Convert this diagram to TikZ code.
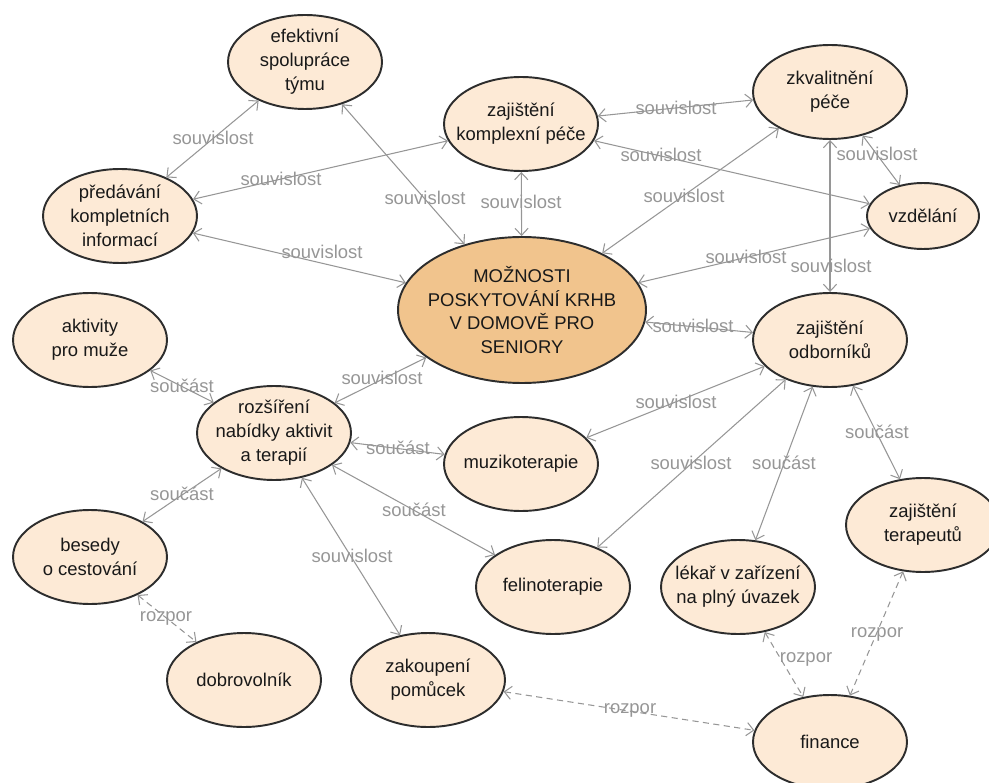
\documentclass[tikz,border=0pt]{standalone}
\usepackage{fontspec}
\setmainfont{Liberation Sans}
\usetikzlibrary{shapes.geometric,arrows.meta}
\definecolor{nodefill}{RGB}{253,234,214}
\definecolor{mainfill}{RGB}{241,196,141}
\definecolor{edgegray}{RGB}{150,150,150}
\definecolor{bordergray}{RGB}{45,45,45}
\definecolor{textdark}{RGB}{25,25,25}
\begin{document}
\begin{tikzpicture}[x=0.02cm,y=-0.02cm,
  concept/.style={ellipse,draw=bordergray,line width=1.1pt,fill=nodefill,
    minimum width=3.08cm,minimum height=1.88cm,inner sep=-8pt,align=center,
    font=\fontsize{10.5}{13.6}\selectfont,text=textdark},
  mainconcept/.style={concept,fill=mainfill,minimum width=4.96cm,minimum height=2.92cm},
  smallconcept/.style={concept,minimum width=2.24cm,minimum height=1.32cm},
  link/.style={draw=edgegray,line width=0.6pt,
    {Straight Barb[length=4pt,width=7.5pt]}-{Straight Barb[length=4pt,width=7.5pt]}},
  conflict/.style={link,dash pattern=on 3.5pt off 2.5pt},
  lab/.style={text=edgegray,font=\fontsize{10.5}{12}\selectfont,inner sep=0pt}]
\useasboundingbox (0,0) rectangle (989,783);
\clip (0,0) rectangle (989,783);

% nodes
\node[concept] (ef) at (305,62) {efektivní\\spolupráce\\týmu};
\node[concept] (kp) at (521,124) {zajištění\\komplexní péče};
\node[concept] (zk) at (830,92) {zkvalitnění\\péče};
\node[concept] (pi) at (120,216) {předávání\\kompletních\\informací};
\node[smallconcept] (vz) at (923,216) {vzdělání};
\node[mainconcept] (main) at (522,310) {MOŽNOSTI\\POSKYTOVÁNÍ KRHB\\V DOMOVĚ PRO\\SENIORY};
\node[concept] (od) at (830,340) {zajištění\\odborníků};
\node[concept] (ak) at (90,340) {aktivity\\pro muže};
\node[concept] (ro) at (274,433) {rozšíření\\nabídky aktivit\\a terapií};
\node[concept] (mu) at (521,464) {muzikoterapie};
\node[concept] (te) at (923,525) {zajištění\\terapeutů};
\node[concept] (be) at (90,557) {besedy\\o cestování};
\node[concept] (fe) at (553,587) {felinoterapie};
\node[concept] (le) at (738,587) {lékař v zařízení\\na plný úvazek};
\node[concept] (do) at (244,680) {dobrovolník};
\node[concept] (za) at (428,680) {zakoupení\\pomůcek};
\node[concept] (fi) at (830,742) {finance};

% connectors
\draw[link] (pi) -- (ef);
\draw[link] (pi) -- (kp);
\draw[link] (pi) -- (main);
\draw[link] (ef) -- (main);
\draw[link] (kp) -- (main);
\draw[link] (kp) -- (zk);
\draw[link] (kp) -- (vz);
\draw[link] (zk) -- (main);
\draw[link] (zk) -- (vz);
\draw[link] (zk) -- (od);
\draw[link] (vz) -- (main);
\draw[link] (main) -- (od);
\draw[link] (od) -- (mu);
\draw[link] (od) -- (fe);
\draw[link] (od) -- (le);
\draw[link] (od) -- (te);
\draw[link] (main) -- (ro);
\draw[link] (ak) -- (ro);
\draw[link] (ro) -- (mu);
\draw[link] (ro) -- (be);
\draw[link] (ro) -- (fe);
\draw[link] (ro) -- (za);
\draw[conflict] (be) -- (do);
\draw[conflict] (za) -- (fi);
\draw[conflict] (le) -- (fi);
\draw[conflict] (te) -- (fi);

% labels
\node[lab] (l1) at (213,138) {souvislost};
\node[lab] (l2) at (281,179) {souvislost};
\node[lab] (l3) at (322,252) {souvislost};
\node[lab] (l4) at (425,198) {souvislost};
\node[lab] (l5) at (521,202) {souvislost};
\node[lab] (l6) at (676,108) {souvislost};
\node[lab] (l7) at (661,155) {souvislost};
\node[lab] (l8) at (684,196) {souvislost};
\node[lab] (l9) at (877,154) {souvislost};
\node[lab] (l10) at (831,266) {souvislost};
\node[lab] (l11) at (746,257) {souvislost};
\node[lab] (l12) at (693,326) {souvislost};
\node[lab] (l13) at (676,402) {souvislost};
\node[lab] (l14) at (691,463) {souvislost};
\node[lab] (l15) at (784,463) {součást};
\node[lab] (l16) at (877,432) {součást};
\node[lab] (l17) at (382,378) {souvislost};
\node[lab] (l18) at (182,386) {součást};
\node[lab] (l19) at (398,448) {součást};
\node[lab] (l20) at (182,494) {součást};
\node[lab] (l21) at (414,510) {součást};
\node[lab] (l22) at (352,556) {souvislost};
\node[lab] (l23) at (166,618) {rozpor};
\node[lab] (l24) at (630,710) {rozpor};
\node[lab] (l25) at (806,659) {rozpor};
\node[lab] (l26) at (877,634) {rozpor};
\end{tikzpicture}
\end{document}
